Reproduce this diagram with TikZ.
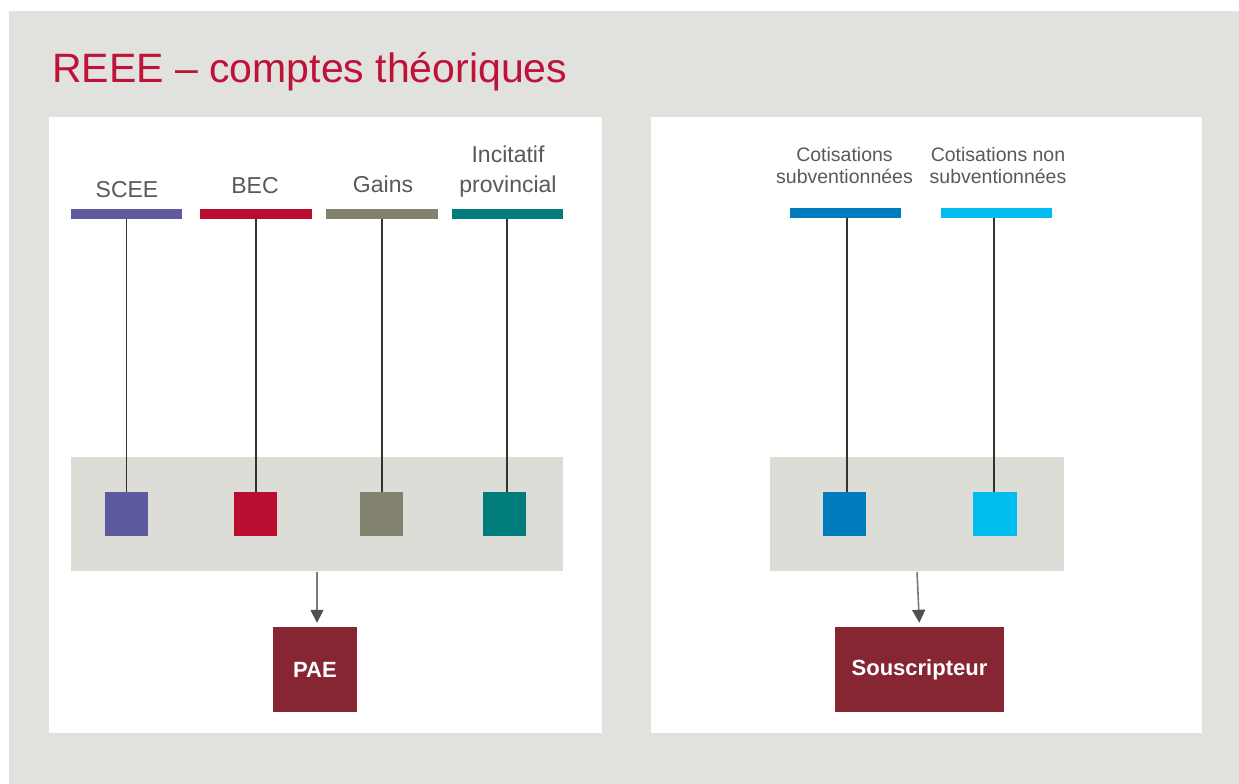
\documentclass[tikz,border=0pt]{standalone}
\usepackage{fontspec}
\setmainfont{Liberation Sans}
\usetikzlibrary{arrows.meta}
\definecolor{bggray}{RGB}{225,225,221}
\definecolor{boxgray}{RGB}{221,221,216}
\definecolor{titlered}{RGB}{190,18,56}
\definecolor{txtgray}{RGB}{89,89,89}
\definecolor{cpurple}{RGB}{94,90,160}
\definecolor{cred}{RGB}{186,12,47}
\definecolor{colive}{RGB}{131,130,110}
\definecolor{cteal}{RGB}{0,125,122}
\definecolor{cblue}{RGB}{0,123,189}
\definecolor{clblue}{RGB}{0,188,239}
\definecolor{cwine}{RGB}{134,38,51}
\definecolor{linegray}{RGB}{51,51,51}
\definecolor{arrgray}{RGB}{120,122,118}
\definecolor{headgray}{RGB}{78,82,76}
\begin{document}
\begin{tikzpicture}[x=1pt,y=-1pt,
 bar/.style={rectangle, inner sep=0, minimum width=111pt, minimum height=10pt},
 sq/.style={rectangle, inner sep=0, minimum width=43pt, minimum height=44pt},
 grp/.style={rectangle, fill=boxgray, inner sep=0, minimum height=114pt},
 lab/.style={text=txtgray, align=center, inner sep=0, anchor=base, font=\fontsize{23}{30}\selectfont},
 rlab/.style={lab, font=\fontsize{19.5}{22}\selectfont},
 dest/.style={rectangle, fill=cwine, text=white, inner sep=0, minimum height=85pt, font=\bfseries\fontsize{22}{26}\selectfont},
 conn/.style={draw=linegray, line width=1.5pt},
 flow/.style={draw=arrgray, line width=1.6pt, -{Triangle[length=13pt,width=13pt,color=headgray]}, shorten >=4pt, shorten <=1pt}
]
\useasboundingbox (0,0) rectangle (1239,784);
\fill[bggray] (9,11) rectangle (1239,784);
\fill[white] (49,117) rectangle (602,733);
\fill[white] (651,117) rectangle (1202,733);

\node[anchor=base west, text=titlered, inner sep=0, font=\fontsize{41}{48}\selectfont] (title) at (52,82) {REEE – comptes théoriques};

% left group
\node[grp, minimum width=492pt] (g1) at (317,514) {};
\node[lab] (l1) at (127,197) {SCEE};
\node[lab] (l2) at (255,193) {BEC};
\node[lab] (l3) at (383,192) {Gains};
\node[lab] (l4) at (508,192) {Incitatif\\provincial};
\node[bar, fill=cpurple] (b1) at (126.5,214) {};
\node[bar, fill=cred, minimum width=112pt] (b2) at (256,214) {};
\node[bar, fill=colive, minimum width=112pt] (b3) at (382,214) {};
\node[bar, fill=cteal] (b4) at (507.5,214) {};
\node[sq, fill=cpurple] (s1) at (126.5,514) {};
\node[sq, fill=cred] (s2) at (255,514) {};
\node[sq, fill=colive] (s3) at (381.5,514) {};
\node[sq, fill=cteal] (s4) at (504.5,514) {};
\draw[conn] (b1.south) -- (b1.south |- s1.north);
\draw[conn] (b2.south) -- (b2.south |- s2.north);
\draw[conn] (b3.south) -- (b3.south |- s3.north);
\draw[conn] ([xshift=-0.5pt]b4.south) -- ([xshift=-0.5pt]b4.south |- s4.north);
\node[dest, minimum width=84pt] (pae) at (315,669.5) {PAE};
\draw[flow] (g1.south) -- (g1.south |- pae.north);

% right group
\node[grp, minimum width=294pt] (g2) at (917,514) {};
\node[rlab] (r1) at (844.5,183) {Cotisations\\subventionnées};
\node[rlab] (r2) at (998,183) {Cotisations non\\subventionnées};
\node[bar, fill=cblue] (rb1) at (845.5,213) {};
\node[bar, fill=clblue] (rb2) at (996.5,213) {};
\node[sq, fill=cblue] (rs1) at (844.5,514) {};
\node[sq, fill=clblue, minimum width=44pt] (rs2) at (995,514) {};
\draw[conn] ([xshift=1.5pt]rb1.south) -- ([xshift=1.5pt]rb1.south |- rs1.north);
\draw[conn] ([xshift=-2.5pt]rb2.south) -- ([xshift=-2.5pt]rb2.south |- rs2.north);
\node[dest, minimum width=169pt] (sous) at (919.5,669.5) {Souscripteur};
\draw[flow] (g2.south) -- (sous.north);
\end{tikzpicture}
\end{document}
